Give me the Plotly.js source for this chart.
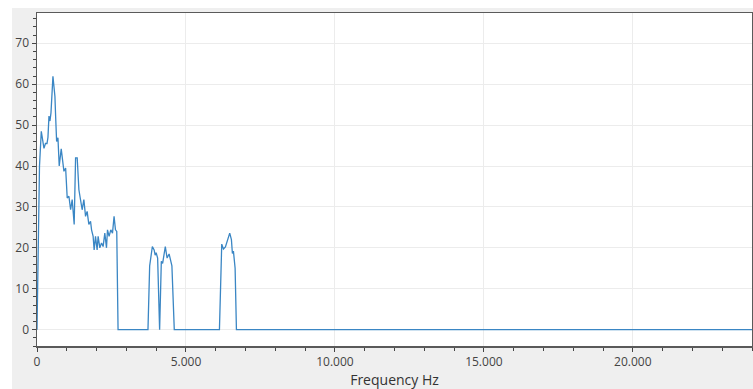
<!DOCTYPE html>
<html>
<head>
<meta charset="utf-8">
<script src="https://cdn.plot.ly/plotly-3.0.1.min.js"></script>
<style>
html,body{margin:0;padding:0;background:#ffffff;width:753px;height:389px;overflow:hidden;}
#chart{position:absolute;left:12px;top:8px;width:741px;height:381px;}
</style>
</head>
<body>
<div id="chart"></div>
<script>
// Frequency (Hz) and magnitude values
var freqHz = [0, 84, 144, 184, 234, 284, 335, 368, 402, 435, 469, 535, 602, 626, 659, 703, 746, 813, 853, 904, 961, 1014, 1071, 1128, 1181, 1248, 1295, 1349, 1406, 1473, 1516, 1573, 1630, 1683, 1740, 1797, 1831, 1884, 1918, 1964, 2018, 2052, 2109, 2166, 2219, 2276, 2333, 2366, 2420, 2477, 2534, 2587, 2634, 2677, 2721,
  3725, 3782, 3872, 3932, 3966, 3999, 4049, 4116, 4173, 4217, 4307, 4367, 4434, 4528, 4608,
  6124, 6201, 6258, 6325, 6392, 6469, 6526, 6559, 6593, 6650, 6694, 24000];
var magnitude = [0, 40, 48.5, 47, 44.3, 45.5, 45.5, 47, 52.2, 51, 53, 61.9, 57, 52, 46, 46.9, 40, 44.2, 42, 38.7, 39.5, 32.2, 32.6, 29.3, 31.8, 25.7, 42, 42, 34.2, 31.4, 29.3, 31.8, 27.7, 28.9, 25.7, 26.5, 24.4, 22.8, 19.5, 22.8, 19.5, 22.8, 20, 21.2, 20.3, 23.6, 20, 24.4, 22.8, 24.4, 23.6, 27.7, 24.4, 24, 0,
  0, 15.6, 20.3, 19.5, 18.2, 18.8, 17.5, 0, 16.7, 16.2, 20.3, 17.5, 18.5, 15.6, 0,
  0, 20.9, 19.7, 20.2, 22, 23.6, 22, 18.6, 19.2, 15, 0, 0];
var xTitle = 'Frequency Hz';

var trace = {
  x: freqHz,
  y: magnitude,
  type: 'scatter',
  mode: 'lines',
  line: {color: '#3a86c4', width: 1.3},
  hoverinfo: 'x+y'
};

var axisCommon = {
  showline: true,
  mirror: true,
  linecolor: '#5a5a5a',
  linewidth: 1.5,
  showgrid: true,
  gridcolor: '#ececec',
  gridwidth: 1,
  zeroline: false,
  ticks: 'outside',
  ticklen: 4,
  tickwidth: 1,
  tickcolor: '#444',
  tickfont: {family: 'Open Sans, sans-serif', size: 12, color: '#444'},
  automargin: false
};

var layout = {
  width: 741,
  height: 381,
  paper_bgcolor: '#efefef',
  plot_bgcolor: '#ffffff',
  margin: {l: 25, r: 1, t: 5, b: 43},
  showlegend: false,
  separators: ',.',
  font: {family: 'Open Sans, sans-serif', color: '#444'},
  xaxis: Object.assign({}, axisCommon, {
    range: [0, 24000],
    dtick: 5000,
    tick0: 0,
    tickformat: ',d',
    minor: {dtick: 1000, ticks: 'outside', ticklen: 3, tickcolor: '#444', showgrid: false},
    title: {text: xTitle, font: {family: 'Open Sans, sans-serif', size: 14, color: '#333'}, standoff: 2}
  }),
  yaxis: Object.assign({}, axisCommon, {
    range: [-4, 77.4],
    dtick: 10,
    tick0: 0,
    minor: {dtick: 2, ticks: 'outside', ticklen: 3, tickcolor: '#444', showgrid: false}
  })
};

Plotly.newPlot('chart', [trace], layout, {displayModeBar: false, staticPlot: true});
</script>
</body>
</html>
